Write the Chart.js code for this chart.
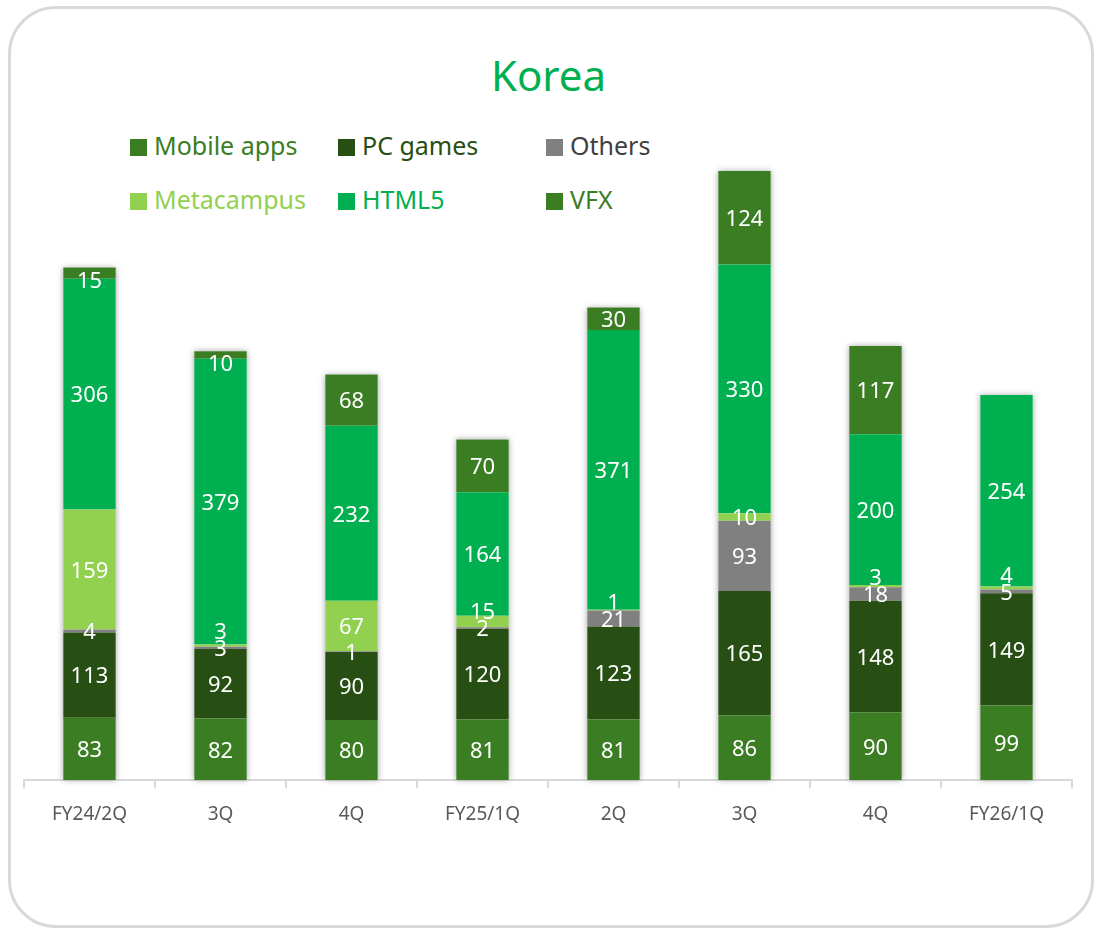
<!DOCTYPE html>
<html>
<head>
<meta charset="utf-8">
<script src="https://cdn.jsdelivr.net/npm/chart.js@4"></script>
<style>
  html, body { margin: 0; padding: 0; background: #fff; }
  #wrap { position: relative; width: 1097px; height: 930px; overflow: hidden; font-family: 'Noto Sans', sans-serif; }
  #card { position: absolute; left: 8px; top: 6px; width: 1080px; height: 916px; border: 3px solid #d9d9d9; border-radius: 48px; }
  #title { position: absolute; left: 0; width: 1097px; top: 46px; text-align: center; font-size: 42px; color: #00b050; line-height: 58px; }
  .lg { position: absolute; font-size: 25px; line-height: 34px; white-space: nowrap; }
  .lg span.box { display: inline-block; width: 17px; height: 17px; margin-right: 7px; vertical-align: -1px; }
  canvas { position: absolute; left: 0; top: 0; }
</style>
</head>
<body>
<div id="wrap">
  <div id="card"></div>
  <div id="title">Korea</div>
  <div id="legend"></div>
  <canvas id="koreaChart" width="1097" height="930"></canvas>
</div>
<script>
const categories = ['FY24/2Q', '3Q', '4Q', 'FY25/1Q', '2Q', '3Q', '4Q', 'FY26/1Q'];
const mobileApps = [83, 82, 80, 81, 81, 86, 90, 99];
const pcGames    = [113, 92, 90, 120, 123, 165, 148, 149];
const others     = [4, 3, 1, 2, 21, 93, 18, 5];
const metacampus = [159, 3, 67, 15, 1, 10, 3, 4];
const html5      = [306, 379, 232, 164, 371, 330, 200, 254];
const vfx        = [15, 10, 68, 70, 30, 124, 117, null];

const series = [
  { label: 'Mobile apps', data: mobileApps, color: '#3b7d23', text: '#3b7d23' },
  { label: 'PC games',    data: pcGames,    color: '#274e13', text: '#274e13' },
  { label: 'Others',      data: others,     color: '#808080', text: '#404040' },
  { label: 'Metacampus',  data: metacampus, color: '#92d050', text: '#92d050' },
  { label: 'HTML5',       data: html5,      color: '#00b050', text: '#00b050' },
  { label: 'VFX',         data: vfx,        color: '#3b7d23', text: '#3b7d23' }
];

// legend laid out in 3 columns like the slide
const legendCols = [130, 338, 546];
const legendRows = [128, 182];
const legendBox = document.getElementById('legend');
series.forEach((s, i) => {
  const el = document.createElement('div');
  el.className = 'lg';
  el.style.left = legendCols[i % 3] + 'px';
  el.style.top = legendRows[Math.floor(i / 3)] + 'px';
  el.style.color = s.text;
  el.innerHTML = '<span class="box" style="background:' + s.color + '"></span>' + s.label;
  legendBox.appendChild(el);
});

// soft shadow behind each stacked column
const columnShadow = {
  id: 'columnShadow',
  beforeDatasetsDraw(chart) {
    const ctx = chart.ctx;
    const n = chart.data.datasets.length;
    ctx.save();
    ctx.shadowColor = 'rgba(0,0,0,0.35)';
    ctx.shadowBlur = 6;
    ctx.fillStyle = '#ffffff';
    categories.forEach((c, i) => {
      let top = Infinity, base = 0, x = 0, w = 0;
      for (let d = 0; d < n; d++) {
        const bar = chart.getDatasetMeta(d).data[i];
        if (!bar || chart.data.datasets[d].data[i] == null) continue;
        top = Math.min(top, bar.y);
        base = Math.max(base, bar.base);
        x = bar.x; w = bar.width;
      }
      ctx.fillRect(x - w / 2, top, w, base - top);
    });
    ctx.restore();
  }
};

// white value labels in the middle of each segment, nudged when segments are thin
const segmentLabels = {
  id: 'segmentLabels',
  afterDatasetsDraw(chart) {
    const ctx = chart.ctx;
    ctx.save();
    ctx.font = '22px "Noto Sans", sans-serif';
    ctx.fillStyle = '#ffffff';
    ctx.textAlign = 'center';
    ctx.textBaseline = 'middle';
    const n = chart.data.datasets.length;
    categories.forEach((c, i) => {
      let lastY = Infinity;
      chart.data.datasets.forEach((ds, d) => {
        const v = ds.data[i];
        if (v === null || v === undefined) return;
        const bar = chart.getDatasetMeta(d).data[i];
        let y = (bar.y + bar.base) / 2 + 2;
        if (d === n - 1 && bar.base - bar.y < 20) y = bar.y + 14;
        if (y > lastY - 17) y = lastY - 17;
        ctx.fillText(String(v), bar.x, y);
        lastY = y;
      });
    });
    ctx.restore();
  }
};

const ctx = document.getElementById('koreaChart').getContext('2d');
const koreaChart = new Chart(ctx, {
  type: 'bar',
  data: {
    labels: categories,
    datasets: series.map(s => ({
      label: s.label,
      data: s.data,
      backgroundColor: s.color,
      borderWidth: 0,
      barPercentage: 0.4,
      categoryPercentage: 1.0
    }))
  },
  options: {
    responsive: false,
    animation: false,
    layout: { padding: { left: 24, right: 25, top: 162, bottom: 89 } },
    plugins: {
      legend: { display: false },
      title: { display: false },
      tooltip: { enabled: false }
    },
    scales: {
      x: {
        stacked: true,
        offset: true,
        border: { color: '#d9d9d9', width: 2 },
        grid: { display: true, offset: true, drawOnChartArea: false, color: '#d9d9d9', lineWidth: 2, tickLength: 8 },
        ticks: { color: '#595959', font: { family: 'Noto Sans', size: 19 }, padding: 15, maxRotation: 0 }
      },
      y: {
        stacked: true,
        display: false,
        min: 0,
        max: 820
      }
    }
  },
  plugins: [columnShadow, segmentLabels]
});
</script>
</body>
</html>
